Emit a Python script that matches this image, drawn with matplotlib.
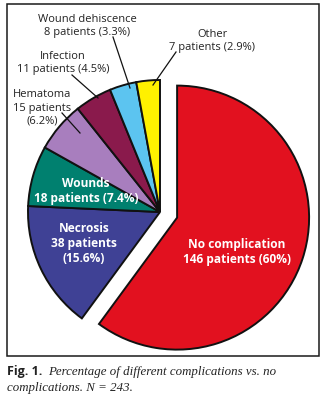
import matplotlib.pyplot as plt
from matplotlib.patches import Rectangle

# complication counts, clockwise from the top
categories = ['No complication', 'Necrosis', 'Wounds', 'Hematoma',
              'Infection', 'Wound dehiscence', 'Other']
patients = [146, 38, 18, 15, 11, 8, 7]
percents = [60, 15.6, 7.4, 6.2, 4.5, 3.3, 2.9]
colors = ['#E2111F', '#3F4195', '#00806F', '#A87EBE',
          '#8A1A4C', '#5CC4F0', '#FFF100']

W, H = 323, 400


def fy(y):
    # positions below are measured from the top edge
    return H - y


fig = plt.figure(figsize=(W / 100, H / 100), dpi=100)
ax = fig.add_axes([0, 0, 1, 1])

explode = [18, 0, 0, 0, 0, 0, 0]
ax.pie(patients, colors=colors, startangle=90, counterclock=False,
       center=(160, fy(212)), radius=132, explode=explode,
       wedgeprops=dict(edgecolor='#111111', linewidth=1.4))

ax.set_xlim(0, W)
ax.set_ylim(0, H)
ax.set_aspect('equal')
ax.axis('off')

# frame round the chart
ax.add_patch(Rectangle((7, fy(356)), 312, 352, fill=False,
                       edgecolor='#1a1a1a', linewidth=1.1))

sans = 'Open Sans'
lbl = dict(family=sans, fontsize=8.0, color='#222222',
           ha='center', va='center', linespacing=1.3)
inner = dict(family=sans, fontsize=8.6, color='white', fontweight='bold',
             ha='center', va='center', linespacing=1.2)


def pat(i):
    return f'{patients[i]} patients'


def pc(i):
    return f'({percents[i]:g}%)'


# white labels inside the large slices
ax.text(237, fy(252), f'{categories[0]}\n{pat(0)} {pc(0)}', **inner)
ax.text(84, fy(243), f'{categories[1]}\n{pat(1)}\n{pc(1)}', **inner)
ax.text(86, fy(191), f'{categories[2]}\n{pat(2)} {pc(2)}', **inner)

# outside labels with leader lines
ax.text(42, fy(108), f'{categories[3]}\n{pat(3)}\n{pc(3)}', **lbl)
ax.text(63, fy(63), f'{categories[4]}\n{pat(4)} {pc(4)}', **lbl)
ax.text(87, fy(26), f'{categories[5]}\n{pat(5)} {pc(5)}', **lbl)
ax.text(212, fy(41), f'{categories[6]}\n{pat(6)} {pc(6)}', **lbl)

leaders = [((62, 113), (80, 133)),
           ((72, 75), (98, 98)),
           ((113, 37), (130, 88)),
           ((176, 52), (153, 85))]
for (x0, y0), (x1, y1) in leaders:
    ax.plot([x0, x1], [fy(y0), fy(y1)], color='#111111', linewidth=0.9)

# caption
ax.text(7, fy(372), 'Fig. 1.', family=sans, fontweight='bold',
        fontsize=9, color='#222222', va='center')
ax.text(48, fy(372), 'Percentage of different complications vs. no',
        family='Liberation Serif', style='italic', fontsize=9.3,
        color='#222222', va='center')
ax.text(7, fy(388), 'complications. N = 243.',
        family='Liberation Serif', style='italic', fontsize=9.3,
        color='#222222', va='center')

fig.savefig('out.png', dpi=100, facecolor='white')
